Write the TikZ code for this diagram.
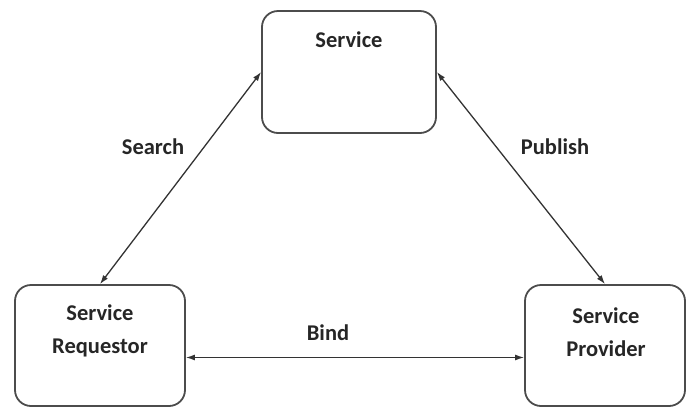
\documentclass[tikz,border=0pt]{standalone}
\usepackage{fontspec}
\setmainfont{Carlito}
\usetikzlibrary{arrows.meta}
\begin{document}
\begin{tikzpicture}[x=1pt,y=-1pt,
  box/.style={draw=black!70,line width=1.8pt,rounded corners=16pt,fill=white,inner sep=0pt},
  txt/.style={font=\fontsize{22.5}{33}\selectfont\bfseries,text=black!85,align=center,inner sep=0pt},
  conn/.style={draw=black!80,line width=1.3pt,{Latex[length=9pt,width=6pt]}-{Latex[length=9pt,width=6pt]}}]
\useasboundingbox (0,0) rectangle (686,408);
\node[box,minimum width=174pt,minimum height=122pt] (svc) at (349,72) {};
\node[box,minimum width=170pt,minimum height=121pt] (req) at (100,345.5) {};
\node[box,minimum width=160pt,minimum height=121pt] (prov) at (605,345.5) {};
\node[txt] (svct) at (349,40) {Service};
\node[txt] (reqt) at (100,331) {Service\\Requestor};
\node[txt] (provt) at (606,332) {Service\\Provider};
\draw[conn] (req.north) -- (svc.west);
\draw[conn] (svc.east) -- (prov.north);
\draw[conn] ([yshift=-12pt]req.east) -- ([yshift=-12pt]prov.west);
\node[txt] (search) at (153,147) {Search};
\node[txt] (publish) at (555,147) {Publish};
\node[txt] (bind) at (328,333) {Bind};
\end{tikzpicture}
\end{document}
